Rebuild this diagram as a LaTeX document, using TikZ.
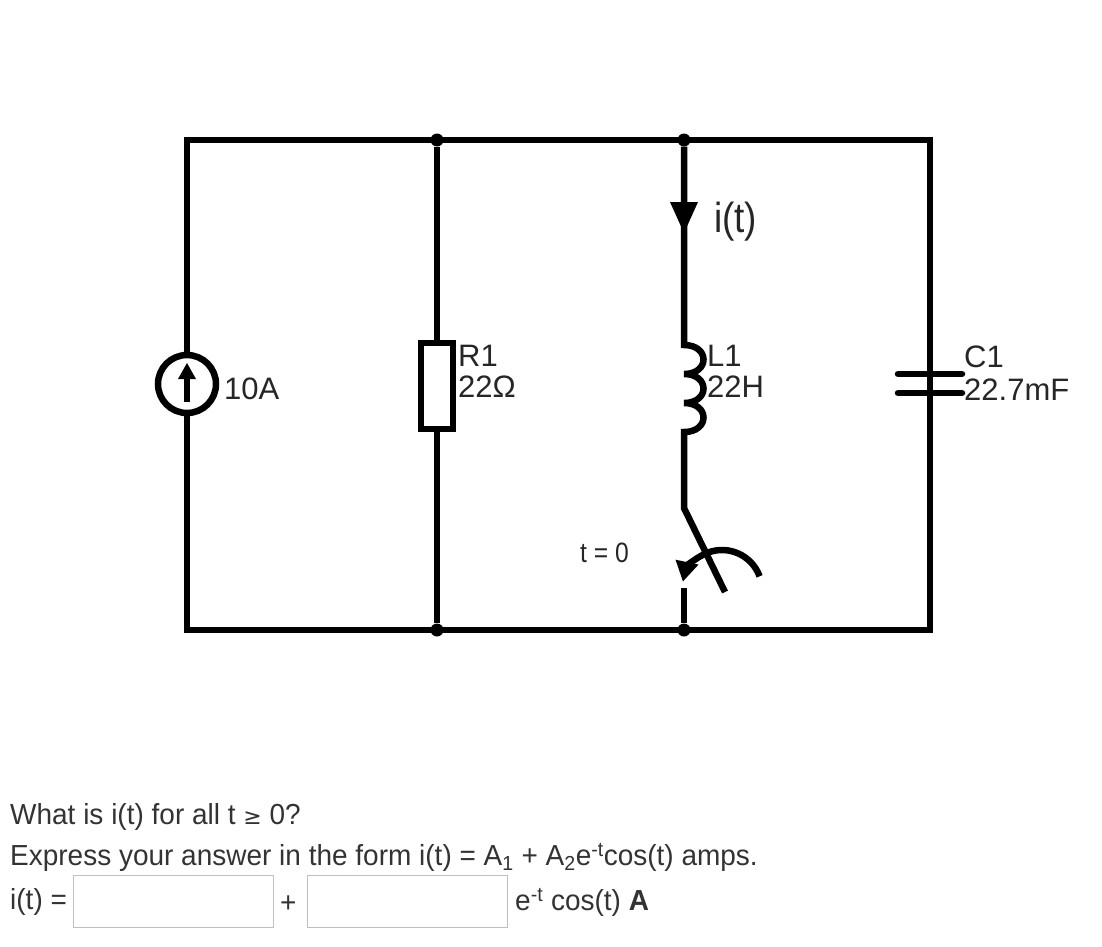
\documentclass[tikz,border=0pt]{standalone}
\usepackage{fontspec}
\setmainfont{Liberation Sans}
\newfontfamily\narrowf[FakeStretch=0.965]{Liberation Sans}
\newfontfamily\narrowt[FakeStretch=0.88]{Liberation Sans}
\usetikzlibrary{arrows.meta}
\begin{document}
\begin{tikzpicture}[x=1pt,y=-1pt,
  wire/.style={line width=6.5pt},
  lbl/.style={font=\fontsize{31}{32}\selectfont,anchor=west,inner sep=0pt,text=black!85},
  qtxt/.style={font=\narrowf\fontsize{29}{30}\selectfont,anchor=west,inner sep=0pt,text=black!80},
  dot/.style={circle,fill,inner sep=0pt,minimum size=13pt},
  box/.style={draw=black!25,line width=1pt,minimum width=200pt,minimum height=52pt,inner sep=0pt}]
\useasboundingbox (0,0) rectangle (1102,946);
% junctions
\coordinate (tl) at (187,140); \coordinate (tr) at (930,140);
\coordinate (bl) at (187,630); \coordinate (br) at (930,630);
\node[dot] (t1) at (437,140) {}; \node[dot] (t2) at (684,140) {};
\node[dot] (b1) at (437,630) {}; \node[dot] (b2) at (684,630) {};
\draw[wire,line cap=rect] (bl) -- (tl) -- (tr) -- (br) -- (bl);
\draw[wire] (t1) -- (b1);
% source
\node[circle,draw,line width=6.5pt,minimum size=58pt,inner sep=0pt,fill=white] (src) at (187,384) {};
\draw[line width=6pt] (187,402) -- (187,376);
\fill (187,363) -- (178,379) -- (196,379) -- cycle;
\node[lbl] (l10) at (224,389) {10A};
% resistor
\node[draw,line width=6.5pt,fill=white,minimum width=32pt,minimum height=86pt,inner sep=0pt] (r1) at (437,386) {};
\node[lbl] (lr1) at (458,356) {R1};
\node[lbl] (lr2) at (458,387) {22Ω};
% inductor branch
\draw[wire] (t2) -- (684,345)
  .. controls (710,345) and (710,374) .. (684,374)
  .. controls (710,374) and (710,403) .. (684,403)
  .. controls (710,403) and (710,432) .. (684,432) -- (684,508) -- (725,592);
\fill (670,202) -- (698,202) -- (684,233) -- cycle;
\node[lbl,font=\narrowt\fontsize{42}{44}\selectfont] (it) at (714,222) {i(t)};
\node[lbl] (ll1) at (707,356) {L1};
\node[lbl] (ll2) at (707,387) {22H};
% switch
\draw[wire] (684,588) -- (b2);
\draw[wire,-{Triangle[width=22pt,length=20pt]}] ([shift={(-20:40)}]722,590) arc[start angle=-20,end angle=-168,radius=40];
\node[lbl,font=\narrowt\fontsize{28}{30}\selectfont] (sw) at (580,553) {t = 0};
% capacitor
\draw[wire] (930,140) -- (930,374);
\draw[wire] (930,393) -- (930,630);
\draw[wire,line cap=round] (898,374) -- (962,374);
\draw[wire,line cap=round] (898,393) -- (962,393);
\node[lbl] (lc1) at (964,357) {C1};
\node[lbl] (lc2) at (964,390) {22.7mF};
% question
\node[qtxt] (q1) at (10,817) {What is i(t) for all t {\fontspec{DejaVu Sans}\fontsize{22}{24}\selectfont ≥} 0?};
\node[qtxt] (q2) at (10,857) {Express your answer in the form i(t) = A\textsubscript{1} + A\textsubscript{2}e\textsuperscript{-t}cos(t) amps.};
\node[qtxt] (q3) at (10,902) {i(t) =};
\node[box,anchor=west] (bx1) at (73,901) {};
\node[qtxt] (pl) at (280,904) {+};
\node[box,anchor=west] (bx2) at (307,901) {};
\node[qtxt] (q4) at (515,902) {e\textsuperscript{-t} cos(t) \textbf{A}};
\end{tikzpicture}
\end{document}
